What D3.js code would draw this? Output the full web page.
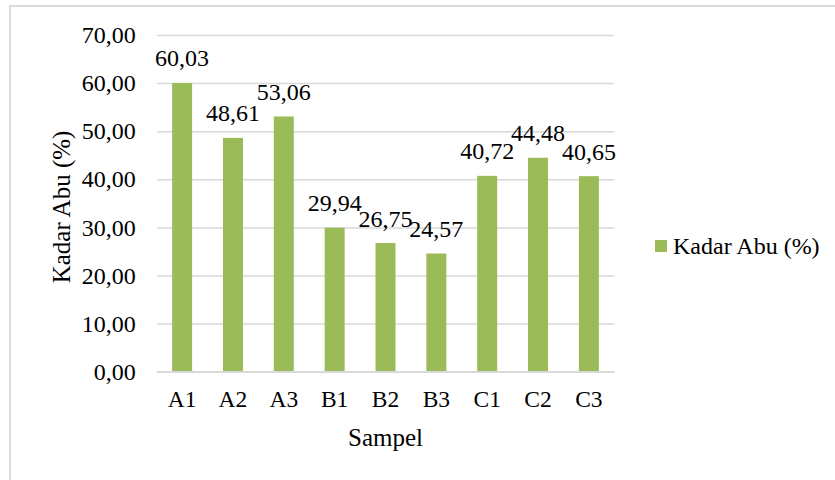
<!DOCTYPE html>
<html>
<head>
<meta charset="utf-8">
<script src="https://cdn.jsdelivr.net/npm/d3@7"></script>
<style>
  html, body { margin: 0; padding: 0; background: #fff; }
  svg { display: block; }
</style>
</head>
<body>
<script>
// Ash content (%) per sample
const categories = ["A1", "A2", "A3", "B1", "B2", "B3", "C1", "C2", "C3"];
const values = [60.03, 48.61, 53.06, 29.94, 26.75, 24.57, 40.72, 44.48, 40.65];
const yTicks = [0, 10, 20, 30, 40, 50, 60, 70];
const seriesName = "Kadar Abu (%)";
const xTitle = "Sampel";
const yTitle = "Kadar Abu (%)";

const W = 835, H = 480;
const plot = { left: 156.7, right: 614.3, top: 35, bottom: 371.7 };
const barColor = "#9BBB59";
const gridColor = "#d9d9d9";
const FONT = "Liberation Serif";

const fmt = v => v.toFixed(2).replace(".", ",");

const svg = d3.select("body").append("svg")
  .attr("width", W).attr("height", H)
  .attr("font-family", FONT);

// chart frame
svg.append("rect")
  .attr("x", 10).attr("y", 6)
  .attr("width", W + 20).attr("height", H + 20)
  .attr("fill", "#fff")
  .attr("stroke", gridColor).attr("stroke-width", 2);

const x = d3.scaleBand()
  .domain(categories)
  .range([plot.left, plot.right])
  .paddingInner(0.607)
  .paddingOuter(0.3035);

const y = d3.scaleLinear()
  .domain([0, 70])
  .range([plot.bottom, plot.top]);

// horizontal gridlines + y tick labels
const yAxis = d3.axisLeft(y)
  .tickValues(yTicks)
  .tickFormat(fmt)
  .tickSize(-(plot.right - plot.left))
  .tickPadding(21);

const gy = svg.append("g")
  .attr("transform", `translate(${plot.left},0)`)
  .call(yAxis)
  .attr("font-family", FONT)
  .attr("font-size", 24);
gy.select(".domain").remove();
gy.selectAll(".tick line")
  .attr("stroke", gridColor).attr("stroke-width", 1.5);
gy.selectAll(".tick text")
  .attr("font-family", FONT)
  .attr("fill", "#000");

// bars
svg.append("g").selectAll("rect")
  .data(values)
  .join("rect")
  .attr("x", (d, i) => x(categories[i]))
  .attr("y", d => y(d))
  .attr("width", x.bandwidth())
  .attr("height", d => y(0) - y(d))
  .attr("fill", barColor);

// x axis labels
const xAxis = d3.axisBottom(x).tickSize(0).tickPadding(18.5);
const gx = svg.append("g")
  .attr("transform", `translate(0,${plot.bottom})`)
  .call(xAxis)
  .attr("font-family", FONT)
  .attr("font-size", 23.5);
gx.select(".domain").remove();
gx.selectAll(".tick text")
  .attr("font-family", FONT)
  .attr("fill", "#000");

// baseline
svg.append("line")
  .attr("x1", plot.left).attr("x2", plot.right)
  .attr("y1", y(0)).attr("y2", y(0))
  .attr("stroke", gridColor).attr("stroke-width", 1.5);

// value labels
svg.append("g").selectAll("text")
  .data(values)
  .join("text")
  .attr("x", (d, i) => x(categories[i]) + x.bandwidth() / 2)
  .attr("y", d => y(d) - 16.5)
  .attr("text-anchor", "middle")
  .attr("font-family", FONT)
  .attr("font-size", 24)
  .attr("fill", "#000")
  .text(fmt);

// axis titles
svg.append("text")
  .attr("transform", "translate(70,207) rotate(-90)")
  .attr("text-anchor", "middle")
  .attr("font-family", FONT)
  .attr("font-size", 25)
  .attr("fill", "#000")
  .text(yTitle);

svg.append("text")
  .attr("x", (plot.left + plot.right) / 2)
  .attr("y", 446)
  .attr("text-anchor", "middle")
  .attr("font-family", FONT)
  .attr("font-size", 25)
  .attr("fill", "#000")
  .text(xTitle);

// legend
const lg = svg.append("g").attr("transform", "translate(655,240)");
lg.append("rect")
  .attr("width", 12).attr("height", 12)
  .attr("fill", barColor);
lg.append("text")
  .attr("x", 18).attr("y", 6)
  .attr("dy", "0.35em")
  .attr("font-family", FONT)
  .attr("font-size", 24)
  .attr("fill", "#000")
  .text(seriesName);
</script>
</body>
</html>
